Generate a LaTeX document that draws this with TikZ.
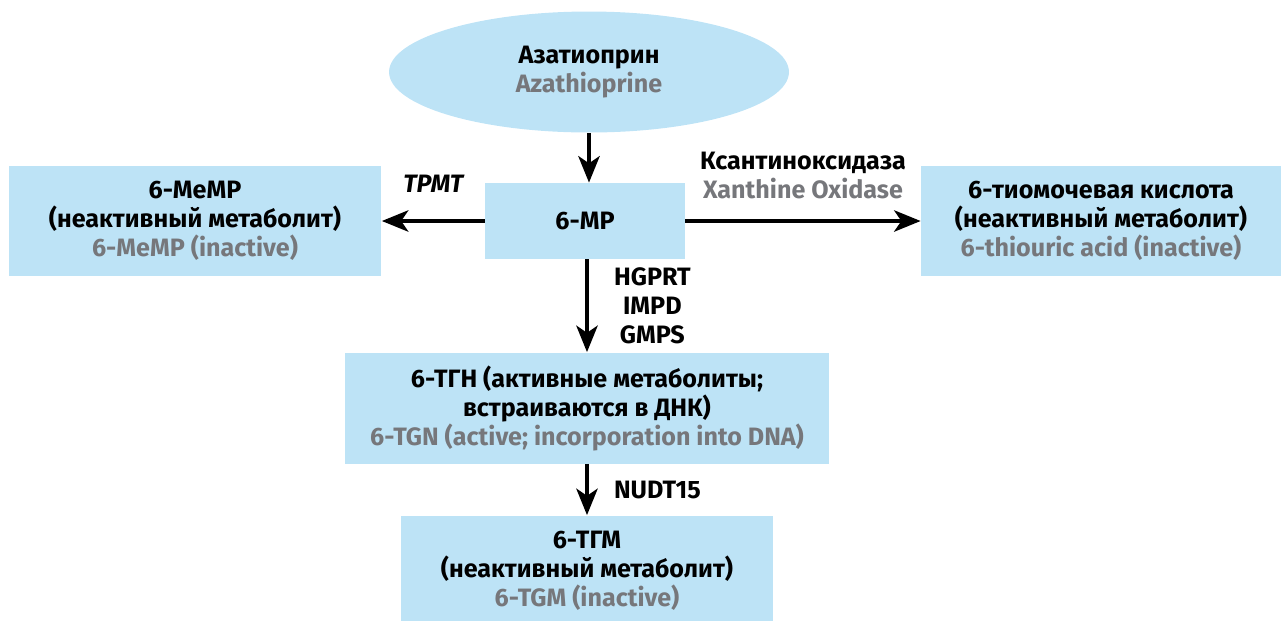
\documentclass[tikz,border=0pt]{standalone}
\usepackage{fontspec}
\setmainfont{Fira Sans}
\usetikzlibrary{shapes.geometric,arrows.meta,positioning}
\definecolor{boxblue}{HTML}{BDE3F6}
\definecolor{engray}{HTML}{76777B}
\newcommand{\entxt}[1]{{\color{engray}#1}}

\begin{document}
\begin{tikzpicture}[x=0.02cm, y=-0.02cm,
    font=\fontsize{14.3pt}{16.5pt}\selectfont\bfseries,
    box/.style={fill=boxblue, align=center, inner sep=0pt},
    flow/.style={-{Stealth[length=15pt, width=12pt, inset=4pt]}, line width=2.8pt},
    lbl/.style={align=center, inner sep=0pt}]
    \useasboundingbox (0,0) rectangle (1281,620);

    % Вещества
    \node[ellipse, box, minimum width=8cm, minimum height=2.42cm] (aza) at (589,72) {Азатиоприн\\\entxt{Azathioprine}};
    \node[box, minimum width=4cm, minimum height=1.52cm] (mp) at (585,221) {6-MP};
    \node[box, minimum width=7.46cm, minimum height=2.22cm] (memp) at (195,221) {6-MeMP\\(неактивный метаболит)\\\entxt{6-MeMP (inactive)}};
    \node[box, minimum width=7.2cm, minimum height=2.2cm] (thio) at (1101,221) {6-тиомочевая кислота\\(неактивный метаболит)\\\entxt{6-thiouric acid (inactive)}};
    \node[box, minimum width=9.7cm, minimum height=2.22cm] (tgn) at (587,408) {6-ТГН (активные метаболиты;\\встраиваются в ДНК)\\\entxt{6-TGN (active; incorporation into DNA)}};
    \node[box, minimum width=7.46cm, minimum height=2.22cm] (tgm) at (587,571) {6-ТГМ\\(неактивный метаболит)\\\entxt{6-TGM (inactive)}};

    % Превращения
    \draw[flow] (aza.south) -- (aza.south |- mp.north);
    \draw[flow] (mp) -- (memp) node[lbl, midway, above=15pt, font=\fontsize{14.3pt}{16.5pt}\selectfont\bfseries\itshape] (tpmt) {TPMT};
    \draw[flow] (mp) -- (thio) node[lbl, midway, above=11pt] (xo) {Ксантиноксидаза\\\entxt{Xanthine Oxidase}};
    \draw[flow] (mp.south -| tgn) -- (tgn) node[lbl, midway, right=14pt] (hgprt) {HGPRT\\IMPD\\GMPS};
    \draw[flow] (tgn) -- (tgm) node[lbl, midway, right=14pt] (nudt) {NUDT15};
\end{tikzpicture}
\end{document}
